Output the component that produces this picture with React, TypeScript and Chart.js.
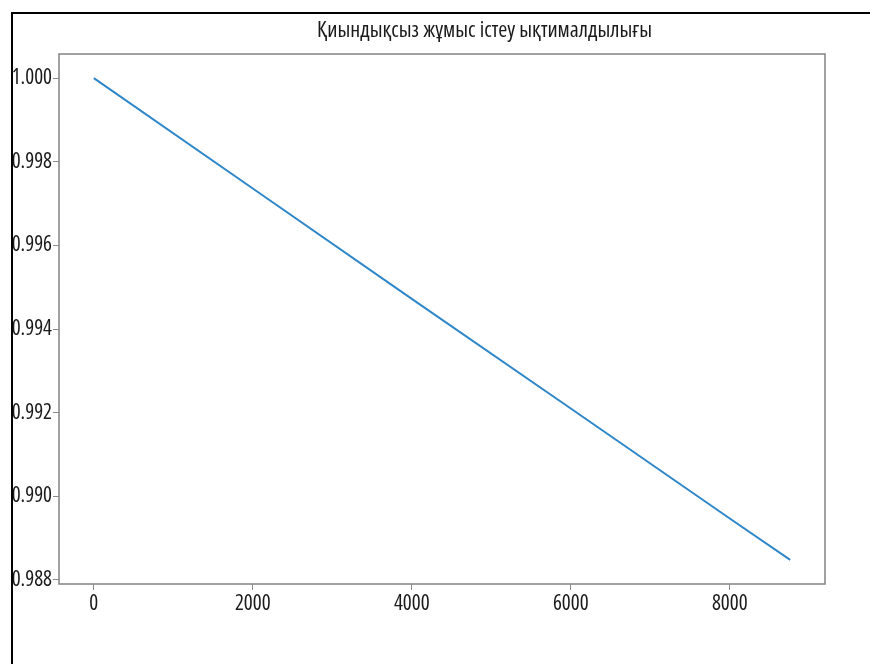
import React, { useEffect, useRef } from "react";
import { Chart, registerables } from "chart.js";

Chart.register(...registerables);

const titleText = "Қиындықсыз жұмыс істеу ықтималдылығы";
const hours = [0, 2000, 4000, 6000, 8000, 8760];
const reliability = [1.0, 0.99736, 0.99472, 0.9921, 0.98947, 0.98848];
const xTicks = [0, 2000, 4000, 6000, 8000];
const yTicks = [0.988, 0.99, 0.992, 0.994, 0.996, 0.998, 1.0];

const FAMILY = "'Open Sans', Roboto, 'Liberation Sans', sans-serif";
const STRETCH = "condensed";
const TEXT = "#1a1a1a";

export default function App() {
  const ref = useRef<HTMLCanvasElement | null>(null);

  useEffect(() => {
    if (!ref.current) return;
    const spanX = hours[hours.length - 1] - hours[0];
    const minY = Math.min(...reliability);
    const maxY = Math.max(...reliability);
    const spanY = maxY - minY;

    const boxPlugin = {
      id: "box",
      afterDatasetsDraw(chart: any) {
        const { ctx, chartArea: a } = chart;
        ctx.save();
        ctx.strokeStyle = "#8a8a8a";
        ctx.lineWidth = 1.6;
        ctx.strokeRect(a.left, a.top, a.right - a.left, a.bottom - a.top);
        ctx.restore();
      },
    };

    const titlePlugin = {
      id: "axTitle",
      afterDraw(chart: any) {
        const { ctx } = chart;
        ctx.save();
        ctx.font = `${STRETCH} 20px ${FAMILY}`;
        const w = ctx.measureText(titleText).width;
        const size = (20 * 335) / w;
        ctx.font = `${STRETCH} ${size.toFixed(2)}px ${FAMILY}`;
        ctx.fillStyle = TEXT;
        ctx.textAlign = "center";
        ctx.textBaseline = "alphabetic";
        ctx.fillText(titleText, 484.5, 37);
        ctx.restore();
      },
    };

    const tickFont = { family: FAMILY, size: 21, weight: STRETCH as any };

    const chart = new Chart(ref.current, {
      type: "line",
      data: {
        datasets: [
          {
            data: hours.map((h, i) => ({ x: h, y: reliability[i] })),
            borderColor: "#2f86c8",
            borderWidth: 2,
            pointRadius: 0,
            fill: false,
            tension: 0,
          },
        ],
      },
      options: {
        animation: false,
        responsive: false,
        layout: { padding: { left: 0, right: 45, top: 54, bottom: 0 } },
        plugins: {
          legend: { display: false },
          tooltip: { enabled: false },
          title: { display: false },
        },
        scales: {
          x: {
            type: "linear",
            min: hours[0] - spanX * 0.05,
            max: hours[hours.length - 1] + spanX * 0.05,
            afterBuildTicks: (s: any) => {
              s.ticks = xTicks.map((v) => ({ value: v }));
            },
            afterFit: (s: any) => {
              s.height = 80;
            },
            grid: { display: true, drawOnChartArea: false, tickLength: 6, color: "#8a8a8a" },
            border: { display: false },
            ticks: {
              color: TEXT,
              padding: 1,
              maxRotation: 0,
              font: tickFont,
              callback: (v: any) => String(v),
            },
          },
          y: {
            type: "linear",
            min: minY - spanY * 0.05,
            max: maxY + spanY * 0.05,
            afterBuildTicks: (s: any) => {
              s.ticks = yTicks.map((v) => ({ value: v }));
            },
            afterFit: (s: any) => {
              s.width = 59;
            },
            grid: { display: true, drawOnChartArea: false, tickLength: 6, color: "#8a8a8a" },
            border: { display: false },
            ticks: {
              color: TEXT,
              padding: 1,
              font: tickFont,
              callback: (v: any) => Number(v).toFixed(3),
            },
          },
        },
      },
      plugins: [boxPlugin, titlePlugin],
    });
    return () => chart.destroy();
  }, []);

  return (
    <div style={{ position: "absolute", left: 0, top: 0, width: 870, height: 664, background: "#fff" }}>
      <canvas ref={ref} width={870} height={664} style={{ position: "absolute", left: 0, top: 0 }} />
      <div style={{ position: "absolute", left: 11, top: 12, width: 2, height: 652, background: "#000" }} />
      <div style={{ position: "absolute", left: 11, top: 12, width: 859, height: 2, background: "#000" }} />
    </div>
  );
}
